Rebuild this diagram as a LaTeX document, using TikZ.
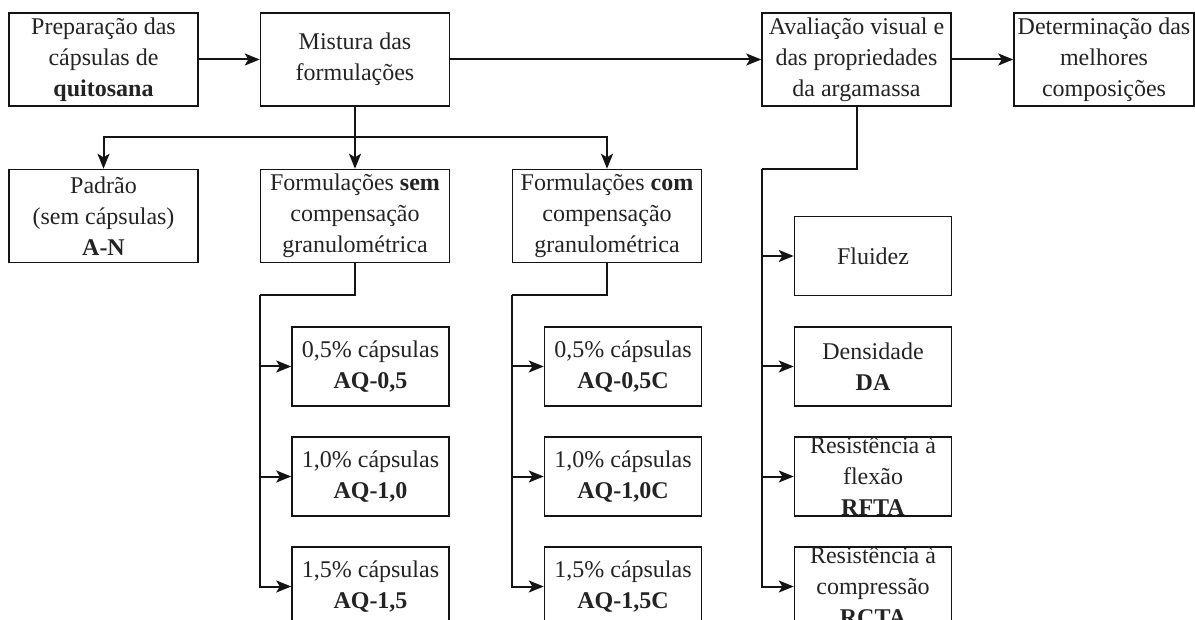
\documentclass[tikz,border=0pt]{standalone}
\usepackage{fontspec}
\setmainfont{Liberation Serif}
\usepackage{xcolor}
\usepackage{tikz}
\usetikzlibrary{arrows.meta,positioning}
\definecolor{flink}{RGB}{20,20,20}
\definecolor{ftext}{RGB}{35,35,35}

\begin{document}
\begin{tikzpicture}[x=0.5pt,y=-0.5pt,
  box/.style={draw=flink,line width=0.75pt,minimum width=94.5pt,minimum height=46.5pt,inner sep=0pt,
    align=center,text=ftext,font=\fontsize{12}{15.5}\selectfont},
  sub/.style={box,minimum width=78.5pt,minimum height=39.5pt},
  lbl/.style={align=center,text=ftext,inner sep=0pt,font=\fontsize{12}{15.5}\selectfont},
  arr/.style={line width=1pt,color=flink,-{Stealth[length=7.5pt,width=6pt,inset=1.8pt]}},
  ln/.style={line width=1pt,color=flink}]
\useasboundingbox (0,0) rectangle (1195,620);
\clip (0,0) rectangle (1195,620);
% first row
\node[box] (prep) at (103.5,59.5) {Preparação das\\cápsulas de\\\textbf{quitosana}};
\node[box] (mist) at (355,59.5) {Mistura das\\formulações};
\node[box] (aval) at (856.5,59.5) {Avaliação visual e\\das propriedades\\da argamassa};
\node[box,minimum width=90pt] (det) at (1104,59.5) {Determinação das\\melhores\\composições};
\draw[arr] (prep) -- (mist);
\draw[arr] (mist) -- (aval);
\draw[arr] (aval) -- (det);
% second row
\node[box] (pad) at (103.5,216) {Padrão\\(sem cápsulas)\\\textbf{A-N}};
\node[box] (sem) at (355,216) {Formulações \textbf{sem}\\compensação\\granulométrica};
\node[box] (com) at (607,216) {Formulações \textbf{com}\\compensação\\granulométrica};
\coordinate (split) at (355,137);
\draw[ln] (mist.south) -- (split);
\draw[arr] (split) -| (pad.north);
\draw[arr] (split) -- (sem.north);
\draw[arr] (split) -| (com.north);
% sem / com
\node[sub] (s05) at (370.5,366.5) {0,5\% cápsulas\\\textbf{AQ-0,5}};
\node[sub] (s10) at (370.5,476.5) {1,0\% cápsulas\\\textbf{AQ-1,0}};
\node[sub] (s15) at (370.5,586.5) {1,5\% cápsulas\\\textbf{AQ-1,5}};
\node[sub] (c05) at (623,366.5) {0,5\% cápsulas\\\textbf{AQ-0,5C}};
\node[sub] (c10) at (623,476.5) {1,0\% cápsulas\\\textbf{AQ-1,0C}};
\node[sub] (c15) at (623,586.5) {1,5\% cápsulas\\\textbf{AQ-1,5C}};
\coordinate (semj) at (260,295);
\coordinate (comj) at (512,295);
\draw[ln] (sem.south) |- (semj);
\draw[ln] (com.south) |- (comj);
\foreach \n in {s05,s10,s15} \draw[arr] (semj) |- (\n.west);
\foreach \n in {c05,c10,c15} \draw[arr] (comj) |- (\n.west);
% propriedades
\node[sub] (flu) at (873,256) {Fluidez};
\node[sub] (den) at (873,366.5) {Densidade\\\textbf{DA}};
\node[sub] (rfta) at (873,476.5) {};
\node[lbl] (rftatx) at (rfta) {Resistência à\\flexão\\\textbf{RFTA}};
\node[sub] (rcta) at (873,586.5) {};
\node[lbl] (rctatx) at (rcta) {Resistência à\\compressão\\\textbf{RCTA}};
\coordinate (avalj) at (762,169);
\draw[ln] (aval.south) |- (avalj);
\foreach \n in {flu,den,rfta,rcta} \draw[arr] (avalj) |- (\n.west);
\end{tikzpicture}
\end{document}
